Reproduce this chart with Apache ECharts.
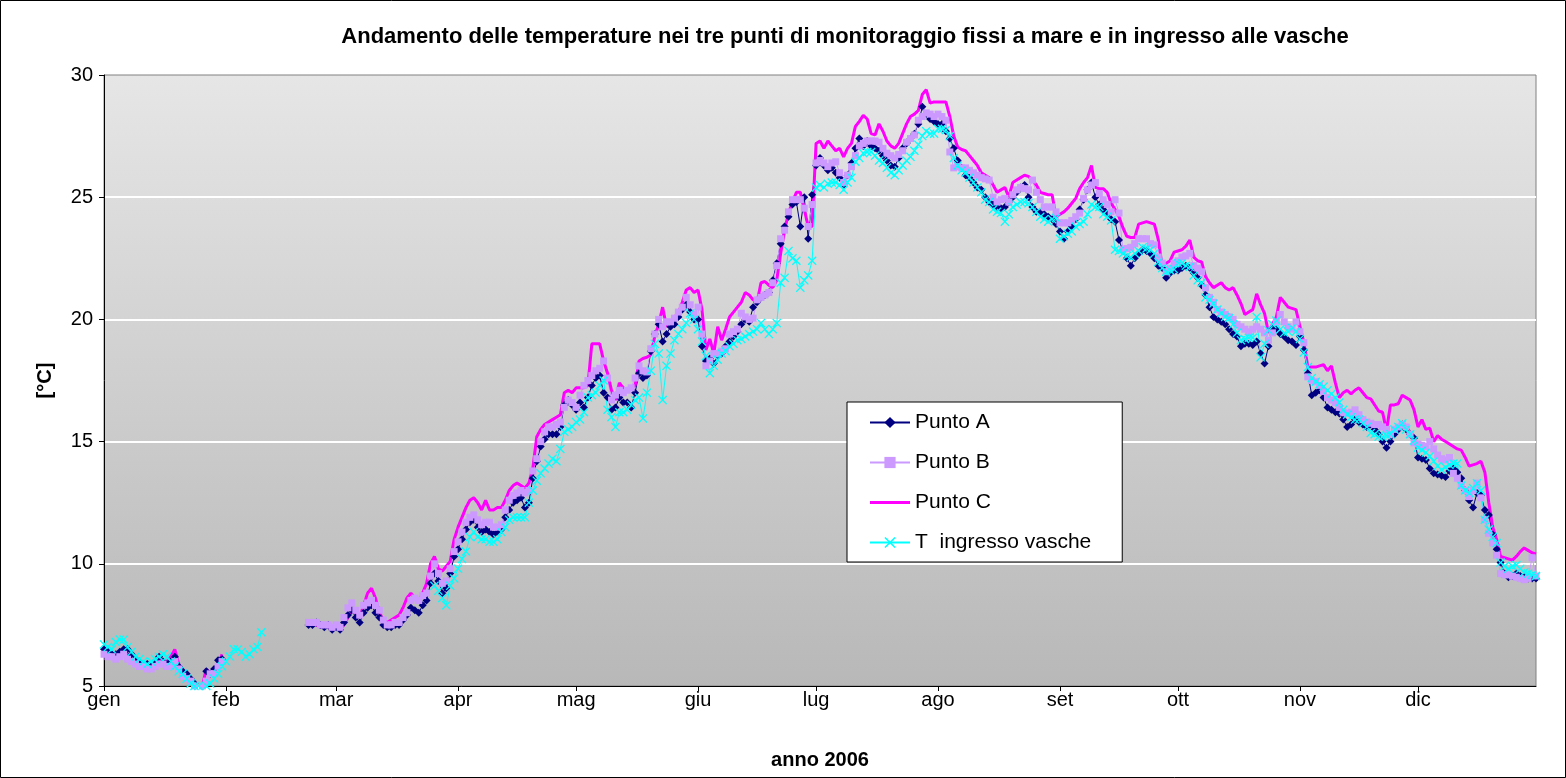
<!DOCTYPE html>
<html>
<head>
<meta charset="utf-8">
<title>Andamento temperature 2006</title>
<script src="https://cdn.jsdelivr.net/npm/echarts@6/dist/echarts.min.js"></script>
<style>
    html, body { margin: 0; padding: 0; background: #fff; }
    #chart { width: 1566px; height: 778px; }
</style>
</head>
<body>
<div id="chart"></div>
<script>
// etichette dei mesi e giorno (0-based) in cui iniziano
const mesi = ['gen', 'feb', 'mar', 'apr', 'mag', 'giu', 'lug', 'ago', 'set', 'ott', 'nov', 'dic'];
const inizioMese = [0, 31, 59, 90, 120, 151, 181, 212, 243, 273, 304, 334];

// giorni senza misura
function vuoto(n) {
    return new Array(n).fill(null);
}

// valori giornalieri, [°C]
const puntoA = [
    6.5, 6.4, 6.3, 6.3, 6.4, 6.5, 6.5, 6.3, 6.1, 6.0, 5.9, 5.9, 5.8, 6.0, 6.2, 6.0, 5.9, 6.0, 6.2, 5.8, 5.6, 5.5, 5.3, 5.1, 4.9, 5.0, 5.6, 5.5, 5.7, 6.05, 6.1,
    ...vuoto(21),
    7.5, 7.5, 7.6, 7.5, 7.4, 7.5, 7.3, 7.4, 7.3, 7.6, 7.9, 8.1, 7.8, 7.6, 8.0, 8.2, 8.3, 8.0, 7.8, 7.5, 7.4, 7.4, 7.5, 7.5, 7.7, 7.9, 8.2, 8.1, 8.0, 8.3, 8.5, 9.2, 9.6, 9.3, 8.8, 9.0, 9.6, 10.3,
    10.6, 11.0, 11.4, 11.7, 11.8, 11.5, 11.3, 11.4, 11.3, 11.2, 11.3, 11.4, 11.9, 12.2, 12.5, 12.6, 12.7, 12.3, 12.5, 13.5, 14.2, 14.8, 15.1, 15.3, 15.3, 15.3, 15.6, 16.5, 16.7, 16.5, 16.3,
    16.6, 16.4, 16.8, 17.3, 17.6, 17.7, 17.0, 16.8, 16.3, 16.4, 16.8, 16.6, 16.6, 16.4, 17.0, 17.8, 17.6, 17.7, 18.7, 19.4, 19.8, 19.1, 19.4, 19.7, 19.8, 20.1, 20.4, 20.6, 20.3, 20.0,
    20.0, 18.9, 18.3, 18.4, 18.2, 18.5, 18.6, 18.9, 19.1, 19.3, 19.5, 19.8, 20.0, 19.9, 20.5, 20.7, 20.9, 21.0, 21.1, 21.6, 22.3, 23.1, 23.8, 24.2, 24.7, 24.8, 23.8, 25.0, 23.3, 25.1,
    26.3, 26.6, 26.3, 26.1, 26.2, 26.0, 25.8, 25.5, 25.9, 26.4, 27.0, 27.4, 27.1, 27.3, 27.1, 27.0, 26.9, 26.7, 26.5, 26.3, 26.25, 26.6, 27.0, 27.2, 27.4, 27.6, 28.0, 28.7, 28.4, 28.2, 28.1,
    28.0, 28.0, 27.7, 27.4, 27.0, 26.5, 26.2, 25.9, 25.8, 25.6, 25.4, 25.3, 25.0, 24.8, 24.7, 24.6, 24.55, 24.6, 24.8, 25.0, 25.2, 25.4, 25.5, 25.0, 24.6, 24.4, 24.35, 24.3, 24.2, 24.1, 23.9,
    23.6, 23.3, 23.6, 23.8, 24.1, 24.5, 24.9, 25.3, 25.6, 25.0, 24.7, 24.5, 24.3, 24.1, 24.0, 23.25, 22.8, 22.5, 22.2, 22.5, 22.7, 22.85, 22.8, 22.7, 22.5, 22.2, 22.1, 21.7, 21.9, 22.0,
    22.0, 22.1, 22.2, 22.1, 21.9, 21.7, 21.4, 21.0, 20.5, 20.1, 20.0, 19.9, 19.8, 19.6, 19.4, 19.3, 18.9, 19.0, 19.0, 18.95, 19.1, 18.6, 18.2, 18.9, 19.65, 19.6, 19.4, 19.3, 19.15, 19.1, 18.95,
    19.3, 18.75, 17.8, 16.9, 17.0, 17.1, 16.8, 16.4, 16.3, 16.2, 16.15, 15.9, 15.6, 15.7, 15.9, 15.8, 15.7, 15.6, 15.7, 15.5, 15.3, 15.0, 14.75, 15.0, 15.3, 15.5, 15.7, 15.5, 15.3, 15.15,
    14.35, 14.3, 14.25, 13.9, 13.7, 13.65, 13.6, 13.55, 13.8, 13.9, 13.75, 13.5, 13.0, 12.6, 12.3, 12.9, 12.8, 12.2, 12.0, 11.2, 10.6, 10.05, 9.6, 9.45, 9.5, 9.6, 9.5, 9.45, 9.4, 9.4, 9.4
];

const puntoB = [
    6.3, 6.2, 6.2, 6.1, 6.2, 6.3, 6.1, 6.0, 5.9, 5.8, 5.8, 5.7, 5.7, 5.8, 5.9, 5.9, 5.8, 5.8, 6.0, 5.7, 5.4, 5.3, 5.2, 5.0, 4.9, 5.0, 5.2, 5.5, 5.5, 5.8, 6.0,
    ...vuoto(21),
    7.6, 7.6, 7.6, 7.5, 7.5, 7.5, 7.4, 7.5, 7.4, 7.8, 8.2, 8.4, 8.1, 7.9, 8.3, 8.4, 8.5, 8.3, 8.1, 7.7, 7.5, 7.5, 7.6, 7.6, 7.8, 8.0, 8.5, 8.6, 8.5, 8.7, 8.8, 9.5, 10.0, 9.6, 9.2, 9.3, 9.8, 10.5,
    10.9, 11.3, 11.7, 11.9, 12.0, 11.8, 11.6, 11.7, 11.7, 11.5, 11.5, 11.6, 12.2, 12.6, 12.8, 12.9, 13.0, 12.9, 13.0, 13.8, 14.3, 15.0, 15.4, 15.6, 15.6, 15.7, 15.8, 16.4, 16.7, 16.6, 16.4,
    16.9, 17.3, 17.5, 17.7, 17.9, 18.0, 18.3, 17.6, 16.7, 16.9, 17.1, 17.0, 17.1, 17.2, 17.6, 18.1, 17.9, 17.85, 18.8, 19.4, 20.0, 19.7, 19.9, 19.9, 20.05, 20.3, 20.5, 20.9, 20.6, 20.2,
    20.5, 19.4, 18.1, 18.3, 18.6, 18.6, 18.7, 18.8, 19.4, 19.5, 19.6, 20.25, 20.1, 20.0, 20.05, 20.8, 20.9, 21.0, 21.1, 21.5, 22.2, 23.3, 23.65, 24.4, 24.9, 24.9, 24.9, 24.55, 23.8, 24.7,
    26.4, 26.5, 26.4, 26.25, 26.4, 26.45, 26.0, 25.6, 25.9, 26.25, 26.7, 27.1, 27.2, 27.3, 27.3, 27.3, 27.25, 27.0, 26.8, 26.7, 26.6, 26.75, 26.9, 27.25, 27.4, 27.55, 28.15, 28.3, 28.45, 28.4, 28.3,
    28.4, 28.3, 28.15, 26.85, 26.2, 26.25, 26.2, 26.2, 26.1, 26.0, 25.9, 25.8, 25.75, 25.7, 25.0, 24.8, 24.9, 24.95, 24.8, 25.1, 25.3, 25.4, 25.35, 25.3, 25.7, 25.2, 24.9, 24.6, 24.6, 24.6, 24.4,
    23.95, 23.95, 23.95, 24.05, 24.2, 24.35, 24.95, 25.3, 25.5, 25.6, 25.15, 24.9, 24.7, 24.4, 24.9, 24.35, 22.85, 22.9, 22.95, 23.1, 23.3, 23.3, 23.3, 23.1, 23.05, 22.55, 22.3, 21.95, 22.1, 22.3,
    22.4, 22.55, 22.6, 22.7, 22.2, 22.1, 21.95, 21.3, 20.9, 20.7, 20.4, 20.3, 20.2, 20.1, 20.0, 19.8, 19.7, 19.6, 19.5, 19.6, 19.7, 19.6, 19.45, 19.15, 19.45, 19.9, 20.2, 19.9, 19.7, 19.6, 19.9,
    19.5, 19.05, 17.65, 17.5, 17.45, 17.3, 17.05, 16.8, 16.7, 16.6, 16.4, 16.2, 16.15, 16.2, 16.3, 16.1, 15.9, 15.8, 15.75, 15.7, 15.7, 15.6, 15.5, 15.3, 15.5, 15.6, 15.7, 15.6, 15.3, 14.95,
    14.9, 14.85, 14.8, 15.0, 14.7, 14.45, 14.3, 14.25, 14.35, 13.7, 13.5, 13.2, 13.0, 12.75, 13.0, 13.3, 12.7, 11.8, 11.25, 10.85, 10.35, 9.6, 9.55, 9.55, 9.5, 9.45, 9.4, 9.35, 9.4, 10.25, 9.5
];

const puntoC = [
    6.5, 6.4, 6.3, 6.3, 6.4, 6.4, 6.3, 6.1, 6.0, 5.9, 5.9, 5.8, 5.8, 6.0, 6.1, 6.0, 6.0, 6.2, 6.5, 5.9, 5.6, 5.5, 5.2, 4.9, 4.8, 5.0, 5.7, 5.5, 5.6, 5.9, 6.3,
    ...vuoto(21),
    7.5, 7.5, 7.5, 7.4, 7.4, 7.4, 7.3, 7.4, 7.3, 7.5, 7.8, 8.1, 8.0, 7.8, 8.3, 8.8, 9.0, 8.6, 8.0, 7.7, 7.6, 7.7, 7.8, 7.9, 8.2, 8.6, 8.8, 8.6, 8.5, 8.8, 9.2, 10.0, 10.3, 9.8, 9.7, 9.9, 10.1, 11.0,
    11.5, 11.9, 12.3, 12.6, 12.7, 12.5, 12.2, 12.6, 12.2, 12.2, 12.3, 12.3, 12.6, 13.0, 13.2, 13.3, 13.2, 13.1, 13.3, 13.9, 15.2, 15.5, 15.7, 15.8, 15.9, 16.0, 16.1, 17.0, 17.1, 17.0, 17.2,
    17.2, 17.2, 17.3, 19.0, 19.0, 19.0, 18.3, 17.8, 17.1, 16.7, 17.4, 17.2, 17.1, 17.2, 17.3, 18.3, 18.4, 18.45, 18.55, 19.3, 19.8, 20.5, 19.7, 19.9, 20.1, 20.25, 20.7, 21.2, 21.3, 21.1,
    21.2, 20.4, 18.75, 19.2, 18.6, 19.7, 19.15, 19.6, 20.1, 20.3, 20.5, 20.7, 21.1, 21.0, 20.8, 20.7, 21.5, 21.55, 21.4, 21.3, 21.6, 22.7, 23.65, 24.35, 24.8, 25.2, 25.2, 24.5, 23.8, 23.8,
    27.2, 27.3, 27.0, 27.3, 27.1, 26.9, 27.0, 26.65, 27.0, 27.2, 27.9, 28.1, 28.35, 28.2, 27.6, 27.55, 28.0, 27.7, 27.3, 27.1, 27.0, 27.2, 27.6, 28.0, 28.3, 28.4, 28.55, 29.2, 29.4, 28.85, 28.9,
    28.9, 28.9, 28.9, 28.3, 27.5, 27.05, 26.95, 26.9, 26.7, 26.5, 26.3, 26.0, 25.9, 25.8, 25.5, 25.2, 25.3, 25.4, 25.0, 25.6, 25.7, 25.8, 25.9, 25.85, 25.7, 25.5, 25.2, 25.15, 25.1, 25.1, 24.2,
    24.3, 24.4, 24.55, 24.75, 24.95, 25.35, 25.6, 25.8, 26.3, 25.4, 25.35, 25.35, 25.2, 24.75, 24.5, 24.2, 23.75, 23.4, 23.35, 23.35, 23.9, 23.95, 24.0, 23.95, 23.9, 23.25, 22.15, 22.3, 22.4, 22.75,
    22.8, 22.85, 23.0, 23.25, 22.55, 22.4, 22.35, 21.75, 21.5, 21.3, 21.4, 21.5, 21.3, 21.2, 21.3, 21.0, 20.65, 20.2, 20.3, 20.4, 21.05, 20.6, 20.25, 19.45, 19.8, 20.1, 20.9, 20.7, 20.5, 20.45, 20.4,
    19.7, 19.05, 18.05, 18.05, 18.05, 18.1, 18.15, 17.9, 18.1, 17.4, 16.8, 17.0, 17.1, 16.95, 17.1, 17.2, 17.0, 16.8, 16.75, 16.5, 16.25, 16.2, 15.45, 16.5, 16.5, 16.55, 16.9, 16.8, 16.7, 16.3,
    15.6, 15.9, 15.5, 15.55, 15.0, 15.25, 15.1, 15.0, 14.9, 14.8, 14.7, 14.65, 14.35, 14.0, 14.05, 14.1, 14.2, 13.75, 12.5, 11.5, 11.0, 10.3, 10.25, 10.2, 10.15, 10.3, 10.5, 10.65, 10.55, 10.45, 10.4
];

const ingressoVasche = [
    6.7, 6.6, 6.5, 6.8, 6.9, 6.9, 6.6, 6.4, 6.2, 6.1, 6.0, 5.9, 6.0, 6.1, 6.2, 6.3, 6.2, 6.0, 5.8, 5.6, 5.5, 5.3, 5.1, 5.0, 5.0, 4.9, 5.0, 5.1, 5.3, 5.5, 5.8, 6.0, 6.2, 6.5, 6.5, 6.4, 6.2, 6.3, 6.5, 6.6, 7.2,
    ...vuoto(43),
    9.1, 8.9, 8.6, 8.3, 9.1, 9.4,
    9.8, 10.2, 10.5, 11.1, 11.3, 11.1, 11.0, 11.0, 10.9, 10.9, 11.0, 11.3, 11.5, 11.8, 11.9, 11.9, 11.9, 11.9, 12.5, 13.0, 13.4, 13.7, 13.9, 14.1, 14.3, 14.2, 14.7, 15.4, 15.5, 15.6, 15.8,
    15.9, 16.2, 16.8, 16.9, 17.0, 17.3, 17.5, 16.3, 16.0, 15.6, 16.2, 16.2, 16.3, 16.5, 16.7, 16.8, 15.95, 17.0, 17.9, 19.0, 18.6, 16.7, 18.1, 18.6, 19.15, 19.4, 19.6, 19.85, 20.25, 20.0,
    19.6, 19.1, 18.5, 17.8, 18.1, 18.35, 18.6, 18.7, 18.9, 19.0, 19.15, 19.2, 19.3, 19.4, 19.5, 19.6, 19.85, 19.6, 19.4, 19.6, 19.85, 21.5, 21.7, 22.8, 22.5, 22.4, 21.3, 21.6, 21.8, 22.4,
    25.4, 25.5, 25.4, 25.55, 25.6, 25.6, 25.5, 25.3, 25.6, 25.8, 26.45, 26.6, 26.8, 26.85, 26.85, 26.7, 26.5, 26.4, 26.2, 26.0, 25.9, 26.1, 26.3, 26.5, 26.65, 26.9, 27.15, 27.5, 27.7, 27.6, 27.6,
    27.8, 27.8, 27.75, 27.5, 26.6, 26.3, 26.1, 26.0, 25.8, 25.6, 25.4, 25.2, 24.9, 24.8, 24.5, 24.4, 24.35, 24.0, 24.3, 24.6, 24.7, 24.8, 24.8, 24.75, 24.6, 24.4, 24.2, 24.1, 24.0, 24.1, 24.15,
    23.3, 23.4, 23.5, 23.6, 23.8, 23.9, 24.0, 24.3, 24.7, 24.6, 24.6, 24.3, 24.2, 24.05, 22.85, 22.8, 22.7, 22.6, 22.55, 22.7, 22.8, 22.95, 22.9, 22.85, 22.7, 22.35, 22.1, 21.95, 22.0, 22.05,
    22.3, 22.3, 22.2, 22.15, 21.8, 21.6, 21.5, 20.9, 20.8, 20.65, 20.4, 20.25, 20.1, 20.05, 19.8, 19.45, 19.15, 19.2, 19.25, 19.25, 20.1, 18.45, 19.0, 19.55, 19.8, 19.95, 19.6, 19.45, 19.5, 19.65, 19.5,
    19.2, 18.65, 18.05, 17.6, 17.45, 17.35, 17.25, 17.1, 16.95, 16.8, 16.6, 16.3, 16.1, 16.0, 15.9, 15.9, 15.75, 15.6, 15.35, 15.3, 15.2, 15.2, 15.25, 15.3, 15.5, 15.6, 15.75, 15.5, 15.3, 15.05,
    14.75, 14.65, 14.55, 14.4, 14.2, 14.0, 13.85, 13.95, 14.05, 14.1, 14.1, 13.2, 13.0, 12.9, 13.1, 13.3, 13.0, 11.8, 11.4, 11.1, 10.85, 10.05, 9.9, 9.8, 9.9, 9.95, 9.8, 9.65, 9.6, 9.55, 9.5
];

// un'etichetta per ogni giorno del 2006
const giorni = [];
for (let i = 0; i < 365; i++) {
    const d = new Date(2006, 0, 1 + i);
    giorni.push(d.getDate() + '/' + (d.getMonth() + 1));
}

[puntoA, puntoB, puntoC, ingressoVasche].forEach((s, i) => {
    if (s.length !== 365) console.error('serie ' + i + ': ' + s.length + ' valori');
});

const font = 'Arial, "Liberation Sans", sans-serif';
const isMonthStart = (i) => inizioMese.indexOf(i) !== -1;
// marker a croce per la serie della vasca
const simboloX = 'path://M0,1 L1,0 L5,4 L9,0 L10,1 L6,5 L10,9 L9,10 L5,6 L1,10 L0,9 L4,5 Z';
// icona di legenda per la linea spessa (i puntini agli angoli fissano il riquadro)
const iconaLinea = 'path://M0,0 L0.01,0 L0,0.01 Z M0,5.5 L40,5.5 L40,8.5 L0,8.5 Z M40,14 L39.99,14 L40,13.99 Z';

const myChart = echarts.init(document.getElementById('chart'));

const option = {
    animation: false,
    backgroundColor: '#ffffff',
    textStyle: { fontFamily: font },
    title: {
        text: 'Andamento delle temperature nei tre punti di monitoraggio fissi a mare e in ingresso alle vasche',
        left: 840,
        textAlign: 'center',
        top: 21,
        textStyle: { fontFamily: font, fontSize: 22, fontWeight: 'bold', color: '#000' }
    },
    grid: {
        left: 104,
        top: 75,
        right: 30,
        bottom: 92,
        show: true,
        borderColor: '#808080',
        borderWidth: 1,
        backgroundColor: {
            type: 'linear', x: 0, y: 0, x2: 0, y2: 1,
            colorStops: [
                { offset: 0, color: '#e6e6e6' },
                { offset: 1, color: '#b8b8b8' }
            ]
        }
    },
    legend: {
        orient: 'vertical',
        left: 847,
        top: 402,
        backgroundColor: '#ffffff',
        borderColor: '#000',
        borderWidth: 1,
        borderRadius: 0,
        padding: [10, 31, 9, 22],
        itemGap: 19,
        itemWidth: 40,
        itemHeight: 14,
        textStyle: { fontFamily: font, fontSize: 21, color: '#000' },
        data: [
            'Punto A',
            'Punto B',
            { name: 'Punto C', icon: iconaLinea },
            'T  ingresso vasche'
        ]
    },
    xAxis: {
        type: 'category',
        data: giorni,
        boundaryGap: false,
        axisLine: { lineStyle: { color: '#000', width: 1 } },
        axisTick: { interval: isMonthStart, length: 5, lineStyle: { color: '#000' } },
        axisLabel: {
            interval: isMonthStart,
            formatter: (v, i) => mesi[inizioMese.indexOf(i)],
            color: '#000',
            fontSize: 20,
            margin: 4,
            fontFamily: font
        },
        splitLine: { show: false },
        name: 'anno 2006',
        nameLocation: 'middle',
        nameGap: 64,
        nameTextStyle: { fontFamily: font, fontSize: 20, fontWeight: 'bold', color: '#000' }
    },
    yAxis: {
        type: 'value',
        min: 5,
        max: 30,
        interval: 5,
        axisLine: { show: true, lineStyle: { color: '#000', width: 1 } },
        axisTick: { show: true, length: 5, lineStyle: { color: '#000' } },
        axisLabel: { color: '#000', fontSize: 20, margin: 11, fontFamily: font },
        splitLine: { show: true, showMinLine: false, showMaxLine: false, lineStyle: { color: '#ffffff', width: 2 } },
        name: '[°C]',
        nameLocation: 'middle',
        nameGap: 49,
        nameTextStyle: { fontFamily: font, fontSize: 20, fontWeight: 'bold', color: '#000' }
    },
    series: [
        {
            name: 'Punto A',
            type: 'line',
            data: puntoA,
            symbol: 'diamond',
            symbolSize: 8,
            showAllSymbol: true,
            lineStyle: { color: '#000080', width: 1 },
            itemStyle: { color: '#000080' }
        },
        {
            name: 'Punto B',
            type: 'line',
            data: puntoB,
            symbol: 'rect',
            symbolSize: 7,
            showAllSymbol: true,
            lineStyle: { color: '#cc99ff', width: 1 },
            itemStyle: { color: '#cc99ff' }
        },
        {
            name: 'Punto C',
            type: 'line',
            data: puntoC,
            symbol: 'none',
            lineStyle: { color: '#ff00ff', width: 3 },
            itemStyle: { color: '#ff00ff' }
        },
        {
            name: 'T  ingresso vasche',
            type: 'line',
            data: ingressoVasche,
            symbol: simboloX,
            symbolSize: 9,
            showAllSymbol: true,
            lineStyle: { color: '#00ffff', width: 1 },
            itemStyle: { color: '#00ffff' }
        }
    ],
    graphic: [
        {
            type: 'rect',
            silent: true,
            shape: { x: 0.5, y: 0.5, width: 1565, height: 777 },
            style: { fill: 'none', stroke: '#000', lineWidth: 1 }
        }
    ]
};

myChart.setOption(option);
</script>
</body>
</html>
